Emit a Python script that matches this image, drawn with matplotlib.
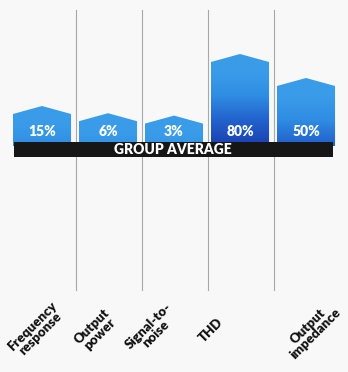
import numpy as np
import matplotlib.pyplot as plt
from matplotlib.patches import Polygon, Rectangle
from matplotlib.colors import LinearSegmentedColormap

categories = ["Frequency\nresponse", "Output\npower", "Signal-to-\nnoise", "THD", "Output\nimpedance"]
values = [15, 6, 3, 80, 50]
value_labels = ["15%", "6%", "3%", "80%", "50%"]
band_text = "GROUP AVERAGE"

plt.rcParams['font.family'] = ['Lato', 'DejaVu Sans']

# layout: 0.8 px per value unit, 66 px between bars
PX = 0.8
FLOOR = 30      # stub added so small values still show
ROOF = 10       # height of the pointed cap
W = 0.88
LABEL_NUDGE = [-6, -12, -22, -29, 6]   # px shift of each rotated label

fig = plt.figure(figsize=(3.48, 3.72), dpi=100)
fig.patch.set_facecolor('#f8f8f8')
ax = fig.add_axes([0, 0, 1, 1])
ax.set_facecolor('#f8f8f8')
ax.set_xlim(-42 / 66, (348 - 42) / 66)
ax.set_ylim(-(372 - 142) / PX, 142 / PX)
ax.axis('off')

# separators between columns
for i in range(len(values) - 1):
    ax.plot([i + 0.5 + 0.02, i + 0.5 + 0.02], [132 / PX, -148 / PX], color='#a8a8a8', lw=0.8, zorder=1)

cmap = LinearSegmentedColormap.from_list('blues', ['#3a9ce9', '#2f8ce3', '#2262cc', '#1b42b2'])

for i, v in enumerate(values):
    top = v + FLOOR
    x0, x1 = i - W / 2, i + W / 2
    pts = [(x0, -5), (x0, top - ROOF), (i, top), (x1, top - ROOF), (x1, -5)]
    poly = Polygon(pts, closed=True, facecolor='none', edgecolor='none')
    ax.add_patch(poly)
    # shade by distance from the peak, in pixels
    ys = np.linspace(top, -5, 200)
    d = (top - ys) * PX
    t = np.clip((d - 18) / 72, 0, 1)
    img = ax.imshow(t[:, None], cmap=cmap, vmin=0, vmax=1, aspect='auto',
                    extent=(x0, x1, -5, top), origin='upper', zorder=2, interpolation='bilinear')
    img.set_clip_path(poly)
    ax.text(i, 12.5, value_labels[i], color='white', fontsize=10, fontweight='heavy',
            ha='center', va='center', zorder=4)

ax.add_patch(Rectangle((-0.424, -15 / PX), 4.834, 15 / PX, facecolor='#161616', edgecolor='none', zorder=3))
ax.text(2 - 0.02, -7.5 / PX, band_text, color='white', fontsize=10, fontweight='heavy',
        ha='center', va='center', zorder=4)

for i, lab in enumerate(categories):
    ax.text(i + LABEL_NUDGE[i] / 66, -(330 - 142) / PX, lab, rotation=45, fontsize=9.5, fontweight='heavy',
            ha='center', va='center', multialignment='center', linespacing=0.9, color='#111111')

fig.savefig('out.png', dpi=100, facecolor=fig.get_facecolor())
